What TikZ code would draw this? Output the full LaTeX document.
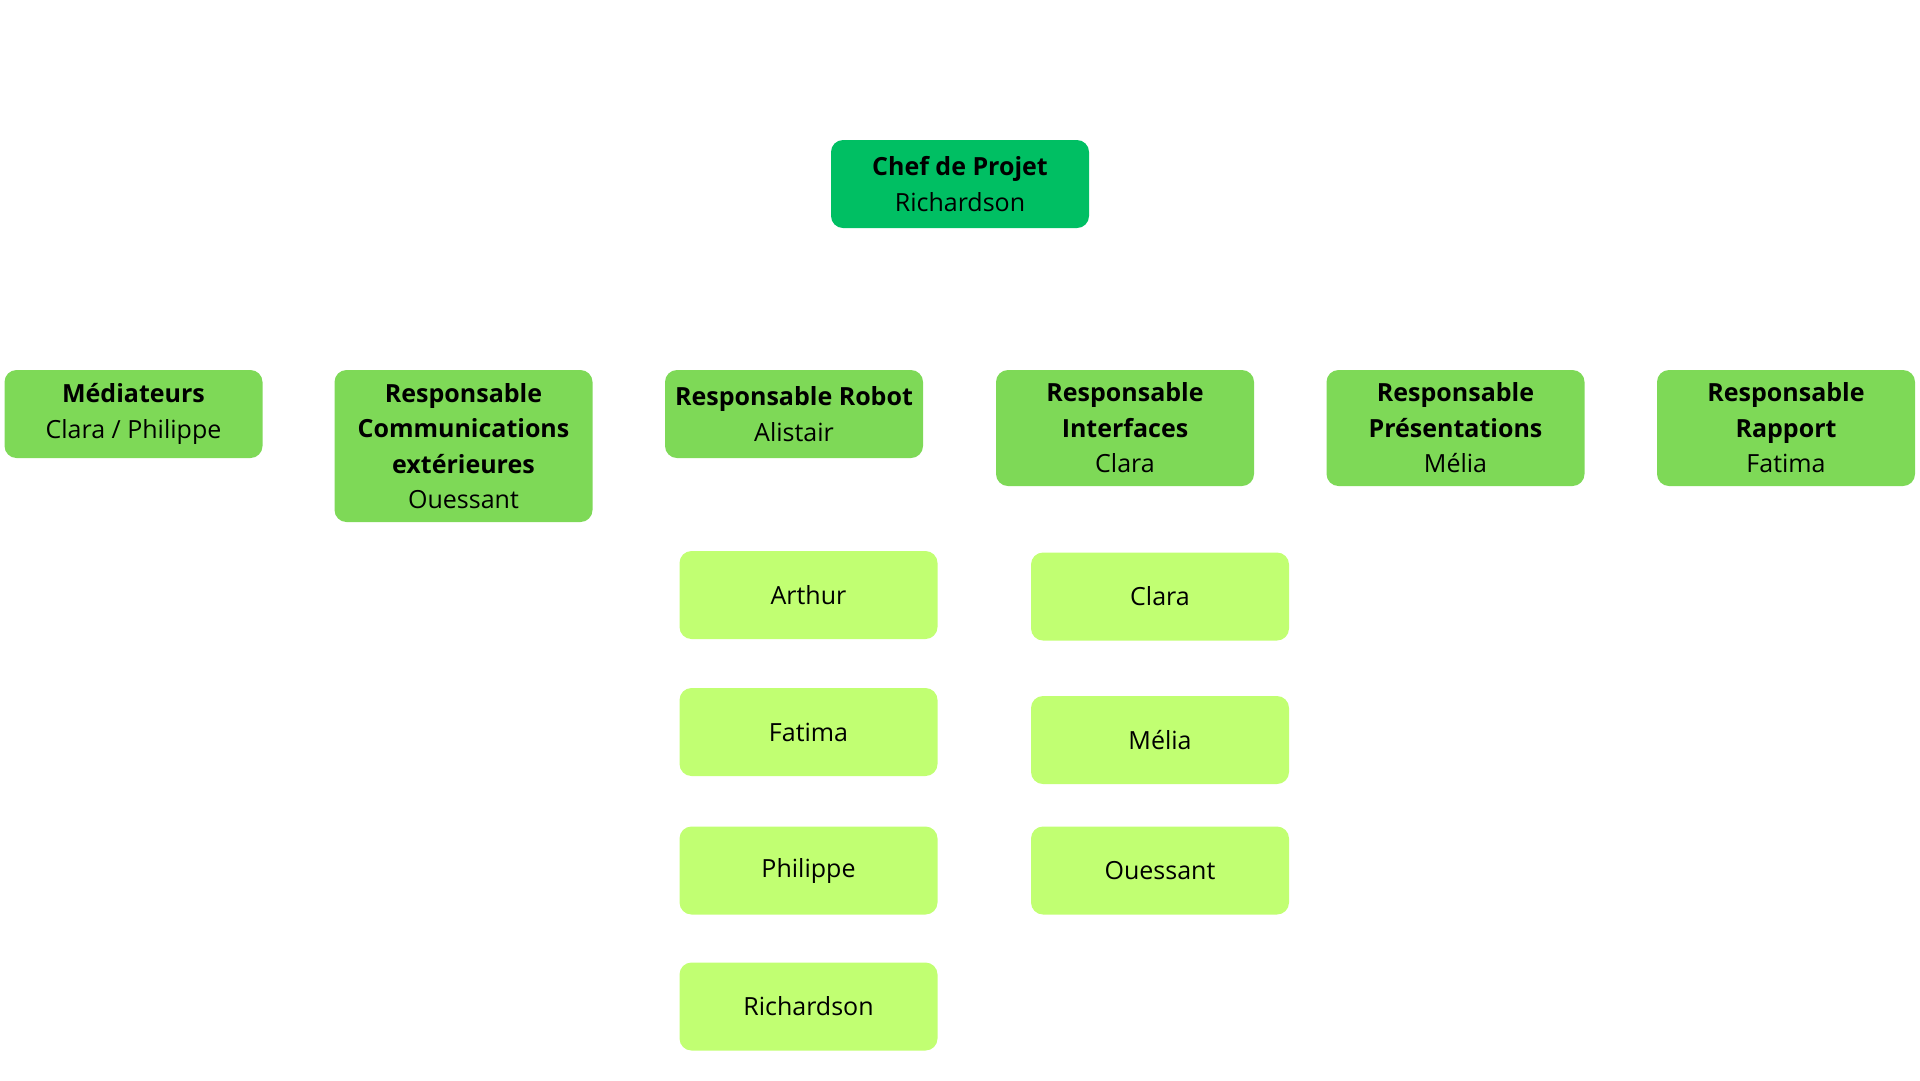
\documentclass[tikz,border=0pt]{standalone}
\usepackage{fontspec}
\setmainfont{Open Sans}
\definecolor{chefgreen}{HTML}{00BF63}
\definecolor{respgreen}{HTML}{7ED957}
\definecolor{membergreen}{HTML}{C1FF72}

\begin{document}
\begin{tikzpicture}[x=1pt, y=-1pt,
    box/.style={rectangle, rounded corners=12pt, inner sep=0pt, align=center,
        minimum width=258pt, minimum height=88pt, text=black,
        font=\fontsize{25}{35.5}\selectfont},
    chefbox/.style={box, fill=chefgreen},
    respbox/.style={box, fill=respgreen},
    memberbox/.style={box, fill=membergreen}]
\useasboundingbox (0,0) rectangle (1920,1080);

% chef
\node[chefbox] (chef) at (960,184) {\textbf{Chef de Projet}\\Richardson};

% responsables
\node[respbox] (mediateurs) at (133.5,414) {\textbf{Médiateurs}\\Clara / Philippe};
\node[respbox, minimum height=152pt] (communications) at (463.5,446) {\textbf{Responsable}\\\textbf{Communications}\\\textbf{extérieures}\\Ouessant};
\node[respbox] (robot) at (794,414) {\textbf{Responsable Robot}\\Alistair};
\node[respbox, minimum height=116pt] (interfaces) at (1125,428) {\textbf{Responsable}\\\textbf{Interfaces}\\Clara};
\node[respbox, minimum height=116pt] (presentations) at (1455.5,428) {\textbf{Responsable}\\\textbf{Présentations}\\Mélia};
\node[respbox, minimum height=116pt] (rapport) at (1786,428) {\textbf{Responsable}\\\textbf{Rapport}\\Fatima};

% equipe robot
\node[memberbox] (arthur) at (808.5,595) {Arthur};
\node[memberbox] (fatima) at (808.5,732) {Fatima};
\node[memberbox] (philippe) at (808.5,870.5) {Philippe};
\node[memberbox] (richardson) at (808.5,1006.5) {Richardson};

% equipe interfaces
\node[memberbox] (clara) at (1160,596.5) {Clara};
\node[memberbox] (melia) at (1160,740) {Mélia};
\node[memberbox] (ouessant) at (1160,870.5) {Ouessant};

\end{tikzpicture}
\end{document}
